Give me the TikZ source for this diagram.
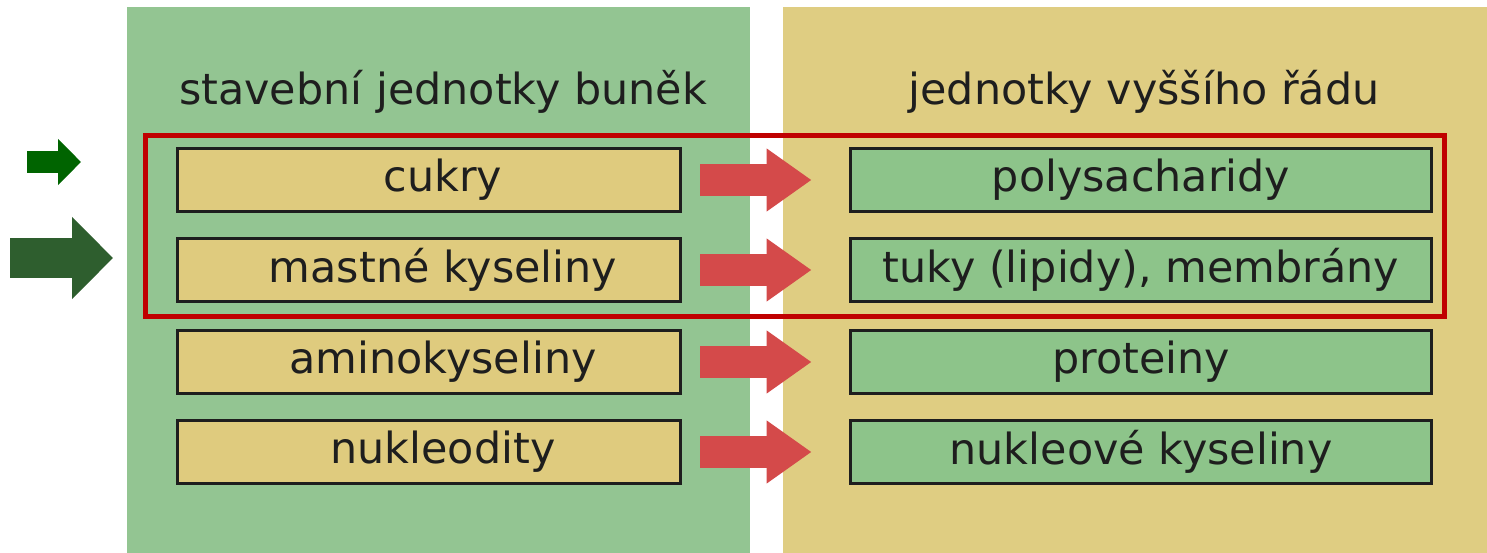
\documentclass[tikz,border=0pt]{standalone}
\usepackage{fontspec}
\setmainfont{DejaVu Sans}
\usetikzlibrary{arrows.meta}
\definecolor{panelgreen}{HTML}{93C592}
\definecolor{paneltan}{HTML}{DFCD82}
\definecolor{boxgreen}{HTML}{8DC48A}
\definecolor{boxtan}{HTML}{DFCB7E}
\definecolor{arrowred}{HTML}{D44A4A}
\definecolor{framered}{HTML}{C00000}
\definecolor{darkgreen}{HTML}{006400}
\definecolor{mossgreen}{HTML}{2E5E2E}
\definecolor{textgray}{HTML}{1E1E1E}
\tikzset{
  higher/.style={draw=textgray, line width=0.06cm, fill=boxgreen, minimum width=11.64cm,
    minimum height=1.28cm, text=textgray, font=\fontsize{24.4}{28}\selectfont},
  unit/.style={higher, fill=boxtan, minimum width=10.08cm,
    execute at begin node=\hspace*{0.56cm}},
  fatarrow/.style={arrowred, line width=0.64cm, -{Triangle[length=0.9cm, width=1.2cm]},
    shorten <=0.36cm, shorten >=0.74cm},
  heading/.style={text=textgray, font=\fontsize{24.4}{28}\selectfont}
}
\begin{document}
\begin{tikzpicture}[x=0.02cm, y=-0.02cm]
  \useasboundingbox (0,0) rectangle (1487,553);
  % Panels
  \fill[panelgreen] (127,7) rectangle (750,553);
  \fill[paneltan] (783,7) rectangle (1487,553);
  \node[heading] (hl) at (443,92) {stavební jednotky buněk};
  \node[heading] (hr) at (1144,92) {jednotky vyššího řádu};
  % Boxes
  \node[unit] (cukry) at (429,180) {cukry};
  \node[unit] (mastne) at (429,270) {mastné kyseliny};
  \node[unit] (amino) at (429,362) {aminokyseliny};
  \node[unit] (nukleo) at (429,452) {nukleodity};
  \node[higher] (poly) at (1141,180) {polysacharidy};
  \node[higher] (tuky) at (1141,270) {tuky (lipidy), membrány};
  \node[higher] (prot) at (1141,362) {proteiny};
  \node[higher] (nukl) at (1141,452) {nukleové kyseliny};
  % Arrows
  \draw[fatarrow] (cukry) -- (poly);
  \draw[fatarrow] (mastne) -- (tuky);
  \draw[fatarrow] (amino) -- (prot);
  \draw[fatarrow] (nukleo) -- (nukl);
  % Frame
  \draw[framered, line width=0.1cm] (145.5,135.5) rectangle (1444.5,316.5);
  \coordinate (s0) at (27,162);
  \coordinate (s1) at (81,162);
  \coordinate (b0) at (10,258);
  \coordinate (b1) at (113,258);
  \draw[darkgreen, line width=0.44cm, -{Triangle[length=0.46cm, width=0.9cm]}] (s0) -- (s1);
  \draw[mossgreen, line width=0.8cm, -{Triangle[length=0.82cm, width=1.6cm]}] (b0) -- (b1);
\end{tikzpicture}
\end{document}
